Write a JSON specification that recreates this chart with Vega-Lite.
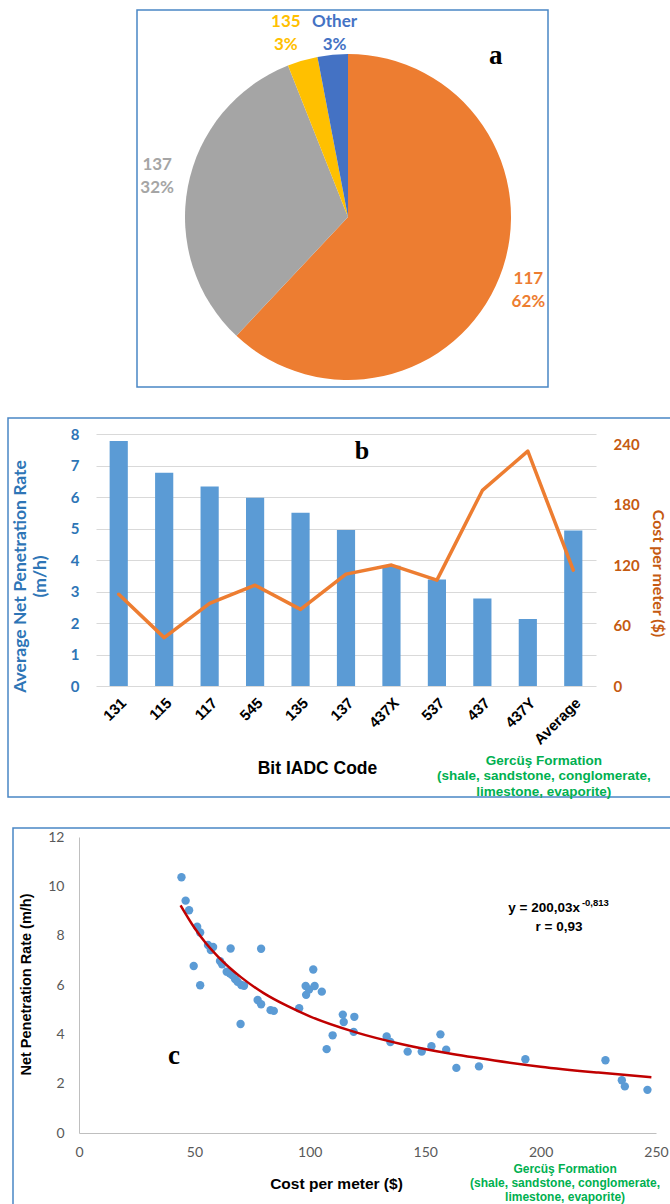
{
  "$schema": "https://vega.github.io/schema/vega-lite/v6.json",
  "background": "white",
  "padding": {"left": 7, "top": 9, "right": 0, "bottom": 0},
  "config": {"view": {"stroke": null}, "axis": {"ticks": false, "grid": false}, "font": "Liberation Sans"},
  "datasets": {
    "pie": [
      {"code": "117", "pct": 62, "ord": 1, "label": "117\n62%"},
      {"code": "137", "pct": 32, "ord": 2, "label": "137\n32%"},
      {"code": "135", "pct": 3, "ord": 3, "label": "135\n3%"},
      {"code": "Other", "pct": 3, "ord": 4, "label": "Other\n3%"}
    ],
    "bits": [
      {"cat": "131", "npr": 7.78, "cost": 91},
      {"cat": "115", "npr": 6.77, "cost": 48},
      {"cat": "117", "npr": 6.33, "cost": 82},
      {"cat": "545", "npr": 5.98, "cost": 100},
      {"cat": "135", "npr": 5.5, "cost": 76},
      {"cat": "137", "npr": 4.95, "cost": 111},
      {"cat": "437X", "npr": 3.82, "cost": 120},
      {"cat": "537", "npr": 3.38, "cost": 105},
      {"cat": "437", "npr": 2.78, "cost": 194},
      {"cat": "437Y", "npr": 2.13, "cost": 233},
      {"cat": "Average", "npr": 4.94, "cost": 115}
    ],
    "scatter": [
      {"cost": 44.4, "npr": 10.37}, {"cost": 46.2, "npr": 9.42}, {"cost": 47.7, "npr": 9.03},
      {"cost": 51.2, "npr": 8.36}, {"cost": 52.5, "npr": 8.13}, {"cost": 49.7, "npr": 6.77},
      {"cost": 52.5, "npr": 5.99}, {"cost": 55.9, "npr": 7.62}, {"cost": 57.1, "npr": 7.42},
      {"cost": 58.1, "npr": 7.54}, {"cost": 65.7, "npr": 7.48}, {"cost": 78.9, "npr": 7.47},
      {"cost": 61.1, "npr": 6.97}, {"cost": 62.0, "npr": 6.84}, {"cost": 64.0, "npr": 6.54},
      {"cost": 65.3, "npr": 6.47}, {"cost": 66.3, "npr": 6.4}, {"cost": 67.6, "npr": 6.24},
      {"cost": 68.7, "npr": 6.13}, {"cost": 70.3, "npr": 6.0}, {"cost": 71.5, "npr": 5.97},
      {"cost": 70.0, "npr": 4.42}, {"cost": 77.4, "npr": 5.39}, {"cost": 78.9, "npr": 5.22},
      {"cost": 83.0, "npr": 4.98}, {"cost": 84.4, "npr": 4.95}, {"cost": 95.4, "npr": 5.06},
      {"cost": 98.2, "npr": 5.96}, {"cost": 98.4, "npr": 5.6}, {"cost": 99.7, "npr": 5.82},
      {"cost": 101.5, "npr": 6.63}, {"cost": 102.1, "npr": 5.96}, {"cost": 105.2, "npr": 5.73},
      {"cost": 107.3, "npr": 3.4}, {"cost": 109.9, "npr": 3.96}, {"cost": 114.3, "npr": 4.8},
      {"cost": 114.7, "npr": 4.5}, {"cost": 119.3, "npr": 4.71}, {"cost": 119.0, "npr": 4.1},
      {"cost": 133.3, "npr": 3.91}, {"cost": 134.9, "npr": 3.69}, {"cost": 142.4, "npr": 3.3},
      {"cost": 148.5, "npr": 3.3}, {"cost": 152.7, "npr": 3.52}, {"cost": 156.6, "npr": 4.0},
      {"cost": 159.1, "npr": 3.38}, {"cost": 163.5, "npr": 2.64}, {"cost": 173.3, "npr": 2.7},
      {"cost": 193.4, "npr": 2.99}, {"cost": 228.1, "npr": 2.95}, {"cost": 235.2, "npr": 2.14},
      {"cost": 236.5, "npr": 1.89}, {"cost": 246.3, "npr": 1.75}
    ],
    "trend": [
      {"cost": 44, "npr": 9.23}, {"cost": 50, "npr": 8.32}, {"cost": 55, "npr": 7.69},
      {"cost": 60, "npr": 7.17}, {"cost": 65, "npr": 6.72}, {"cost": 70, "npr": 6.33},
      {"cost": 80, "npr": 5.67}, {"cost": 90, "npr": 5.16}, {"cost": 100, "npr": 4.73},
      {"cost": 120, "npr": 4.08}, {"cost": 140, "npr": 3.6}, {"cost": 160, "npr": 3.23},
      {"cost": 180, "npr": 2.94}, {"cost": 200, "npr": 2.69}, {"cost": 225, "npr": 2.45},
      {"cost": 248, "npr": 2.26}
    ]
  },
  "vconcat": [
    {
      "width": 411,
      "height": 377,
      "view": {"stroke": "#4A86C5", "strokeWidth": 1.5},
      "title": {"text": "a", "anchor": "start", "frame": "group", "offset": 0, "dx": 352, "dy": 81, "baseline": "alphabetic", "font": "Liberation Serif", "fontSize": 27, "fontWeight": "bold", "color": "#000000"},
      "data": {"name": "pie"},
      "encoding": {
        "theta": {"field": "pct", "type": "quantitative", "stack": true},
        "order": {"field": "ord", "type": "quantitative"},
        "color": {"field": "code", "type": "nominal", "scale": {"domain": ["117", "137", "135", "Other"], "range": ["#ED7D31", "#A5A5A5", "#FFC000", "#4472C4"]}, "legend": null}
      },
      "layer": [
        {"mark": {"type": "arc", "outerRadius": 163, "x": 211, "y": 207}},
        {"mark": {"type": "text", "radius": 194, "x": 211, "y": 207, "dy": -9, "font": "Lato", "fontWeight": "bold", "lineHeight": 23, "lineBreak": "\n", "align": "center", "baseline": "middle"},
         "encoding": {"text": {"condition": {"test": "datum.ord == 1", "field": "label"}, "value": ""},
                      "size": {"condition": {"test": "datum.ord == 1", "value": 17}, "value": 0}}},
        {"mark": {"type": "text", "radius": 180, "x": 211, "y": 207, "dx": -14, "dy": -18, "font": "Lato", "fontWeight": "bold", "lineHeight": 23, "lineBreak": "\n", "align": "center", "baseline": "middle"},
         "encoding": {"text": {"condition": {"test": "datum.ord == 2", "field": "label"}, "value": ""},
                      "size": {"condition": {"test": "datum.ord == 2", "value": 17}, "value": 0}}},
        {"mark": {"type": "text", "radius": 194, "x": 211, "y": 207, "dx": -8, "dy": -9, "font": "Lato", "fontWeight": "bold", "lineHeight": 23, "lineBreak": "\n", "align": "center", "baseline": "middle"},
         "encoding": {"text": {"condition": {"test": "datum.ord == 3", "field": "label"}, "value": ""},
                      "size": {"condition": {"test": "datum.ord == 3", "value": 17}, "value": 0}}},
        {"mark": {"type": "text", "radius": 185, "x": 211, "y": 207, "dx": 4, "dy": -11, "font": "Lato", "fontWeight": "bold", "lineHeight": 23, "lineBreak": "\n", "align": "center", "baseline": "middle"},
         "encoding": {"text": {"condition": {"test": "datum.ord == 4", "field": "label"}, "value": ""},
                      "size": {"condition": {"test": "datum.ord == 4", "value": 17}, "value": 0}}}
      ]
    },
    {
      "width": 669,
      "height": 379,
      "view": {"stroke": "#4A86C5", "strokeWidth": 1.5},
      "layer": [
        {
          "layer": [
            {
              "data": {"name": "bits"},
              "mark": {"type": "bar", "color": "#5B9BD5"},
              "encoding": {
                "x": {"field": "cat", "type": "nominal", "sort": null,
                  "scale": {"domain": ["131", "115", "117", "545", "135", "137", "437X", "537", "437", "437Y", "Average"], "range": [88, 588], "paddingInner": 0.6, "paddingOuter": 0.3},
                  "axis": {"orient": "bottom", "offset": -111, "title": "Bit IADC Code", "titleX": 309, "titleY": 82, "titleBaseline": "middle", "titleAlign": "center", "titleAngle": 0, "titleFont": "Liberation Sans", "titleFontSize": 17.5, "titleFontWeight": "bold", "titleColor": "#000000",
                    "labelAngle": -45, "labelAlign": "right", "labelBaseline": "top", "labelPadding": 9, "labelFont": "Liberation Sans", "labelFontSize": 15, "labelFontWeight": "bold", "labelColor": "#000000", "domain": false, "ticks": false, "grid": false}},
                "y": {"field": "npr", "type": "quantitative",
                  "scale": {"domain": [0, 8], "range": [268, 16], "nice": false, "zero": true},
                  "axis": {"orient": "left", "offset": -71, "values": [0, 1, 2, 3, 4, 5, 6, 7, 8], "grid": true, "gridColor": "#D9D9D9", "gridWidth": 1, "domain": false, "ticks": false, "labelPadding": 0,
                    "labelFont": "Lato", "labelFontSize": 15, "labelFontWeight": "bold", "labelColor": "#2E75B6",
                    "title": ["Average Net Penetration Rate", "(m/h)"], "titleFont": "Lato", "titleFontSize": 17.5, "titleFontWeight": "bold", "titleColor": "#2E75B6", "titleX": -50, "titleY": 158, "titleLineHeight": 20}}
              }
            },
            {
              "data": {"values": [{}]},
              "mark": {"type": "text", "font": "Liberation Serif", "fontSize": 26, "fontWeight": "bold", "color": "#000000", "align": "center", "baseline": "alphabetic", "dx": 16},
              "encoding": {
                "x": {"datum": "137", "type": "nominal"},
                "y": {"datum": 7.2, "type": "quantitative"},
                "text": {"value": "b"}
              }
            },
            {
              "data": {"values": [{}]},
              "mark": {"type": "text", "font": "Liberation Sans", "fontSize": 13.5, "fontWeight": "bold", "color": "#00B050", "align": "center", "baseline": "middle", "lineHeight": 15.5, "lineBreak": "\n", "dx": 16},
              "encoding": {
                "x": {"datum": "437Y", "type": "nominal"},
                "y": {"datum": -2.38, "type": "quantitative"},
                "text": {"value": "Gercüş Formation\n(shale, sandstone, conglomerate,\nlimestone, evaporite)"}
              }
            }
          ]
        },
        {
          "data": {"name": "bits"},
          "mark": {"type": "line", "color": "#ED7D31", "strokeWidth": 3.5, "strokeJoin": "round", "strokeCap": "round"},
          "encoding": {
            "x": {"field": "cat", "type": "nominal", "sort": null},
            "y": {"field": "cost", "type": "quantitative",
              "scale": {"domain": [0, 250], "range": [268, 16], "nice": false},
              "axis": {"orient": "right", "offset": -64, "values": [0, 60, 120, 180, 240], "grid": false, "domain": false, "ticks": false, "labelPadding": 0,
                "labelFont": "Lato", "labelFontSize": 15, "labelFontWeight": "bold", "labelColor": "#C55A11",
                "title": "Cost per meter ($)", "titleFont": "Lato", "titleFontSize": 16, "titleFontWeight": "bold", "titleColor": "#C55A11", "titleX": 36, "titleY": 155}}
          }
        }
      ],
      "resolve": {"scale": {"y": "independent"}}
    },
    {
      "width": 659,
      "height": 380,
      "view": {"stroke": "#4A86C5", "strokeWidth": 1.5},
      "layer": [
        {
          "data": {"name": "scatter"},
          "mark": {"type": "circle", "size": 70, "color": "#5B9BD5", "opacity": 1},
          "encoding": {
            "x": {"field": "cost", "type": "quantitative",
              "scale": {"domain": [0, 250], "range": [66, 643], "nice": false},
              "axis": {"orient": "bottom", "offset": -75, "values": [0, 50, 100, 150, 200, 250], "domain": true, "domainColor": "#BFBFBF", "domainWidth": 1, "ticks": false, "grid": false, "labelPadding": 12, "labelFlush": false, "labelOverlap": false,
                "labelFont": "Lato", "labelFontSize": 14, "labelColor": "#595959",
                "title": "Cost per meter ($)", "titleX": 323, "titleY": 50, "titleBaseline": "middle", "titleAlign": "center", "titleFont": "Liberation Sans", "titleFontSize": 15.5, "titleFontWeight": "bold", "titleColor": "#000000"}},
            "y": {"field": "npr", "type": "quantitative",
              "scale": {"domain": [0, 12], "range": [305, 9], "nice": false},
              "axis": {"orient": "left", "offset": -66, "values": [0, 2, 4, 6, 8, 10, 12], "domain": true, "domainColor": "#BFBFBF", "domainWidth": 1, "ticks": false, "grid": false, "labelPadding": 15,
                "labelFont": "Lato", "labelFontSize": 14, "labelColor": "#595959",
                "title": "Net Penetration Rate (m/h)", "titleX": -46, "titleY": 156, "titleFont": "Liberation Sans", "titleFontSize": 14.5, "titleFontWeight": "bold", "titleColor": "#000000"}}
          }
        },
        {
          "data": {"name": "trend"},
          "mark": {"type": "line", "color": "#C00000", "strokeWidth": 2.5, "interpolate": "monotone"},
          "encoding": {
            "x": {"field": "cost", "type": "quantitative"},
            "y": {"field": "npr", "type": "quantitative"}
          }
        },
        {
          "data": {"values": [{}]},
          "mark": {"type": "text", "font": "Liberation Sans", "fontSize": 13.5, "fontWeight": "bold", "color": "#000000", "align": "right", "baseline": "middle"},
          "encoding": {
            "x": {"datum": 217.1, "type": "quantitative"},
            "y": {"datum": 9.12, "type": "quantitative"},
            "text": {"value": "y = 200,03x"}
          }
        },
        {
          "data": {"values": [{}]},
          "mark": {"type": "text", "font": "Liberation Sans", "fontSize": 9.5, "fontWeight": "bold", "color": "#000000", "align": "left", "baseline": "middle"},
          "encoding": {
            "x": {"datum": 217.9, "type": "quantitative"},
            "y": {"datum": 9.32, "type": "quantitative"},
            "text": {"value": "-0,813"}
          }
        },
        {
          "data": {"values": [{}]},
          "mark": {"type": "text", "font": "Liberation Sans", "fontSize": 13.5, "fontWeight": "bold", "color": "#000000", "align": "center", "baseline": "middle"},
          "encoding": {
            "x": {"datum": 208, "type": "quantitative"},
            "y": {"datum": 8.35, "type": "quantitative"},
            "text": {"value": "r = 0,93"}
          }
        },
        {
          "data": {"values": [{}]},
          "mark": {"type": "text", "font": "Liberation Serif", "fontSize": 27, "fontWeight": "bold", "color": "#000000", "align": "center", "baseline": "alphabetic"},
          "encoding": {
            "x": {"datum": 41.2, "type": "quantitative"},
            "y": {"datum": 2.8, "type": "quantitative"},
            "text": {"value": "c"}
          }
        },
        {
          "data": {"values": [{}]},
          "mark": {"type": "text", "font": "Liberation Sans", "fontSize": 12, "fontWeight": "bold", "color": "#00B050", "align": "center", "baseline": "middle", "lineHeight": 14, "lineBreak": "\n"},
          "encoding": {
            "x": {"datum": 210.6, "type": "quantitative"},
            "y": {"datum": -1.46, "type": "quantitative"},
            "text": {"value": "Gercüş Formation\n(shale, sandstone, conglomerate,\nlimestone, evaporite)"}
          }
        }
      ]
    }
  ],
  "spacing": 31,
  "center": true,
  "bounds": "flush"
}
